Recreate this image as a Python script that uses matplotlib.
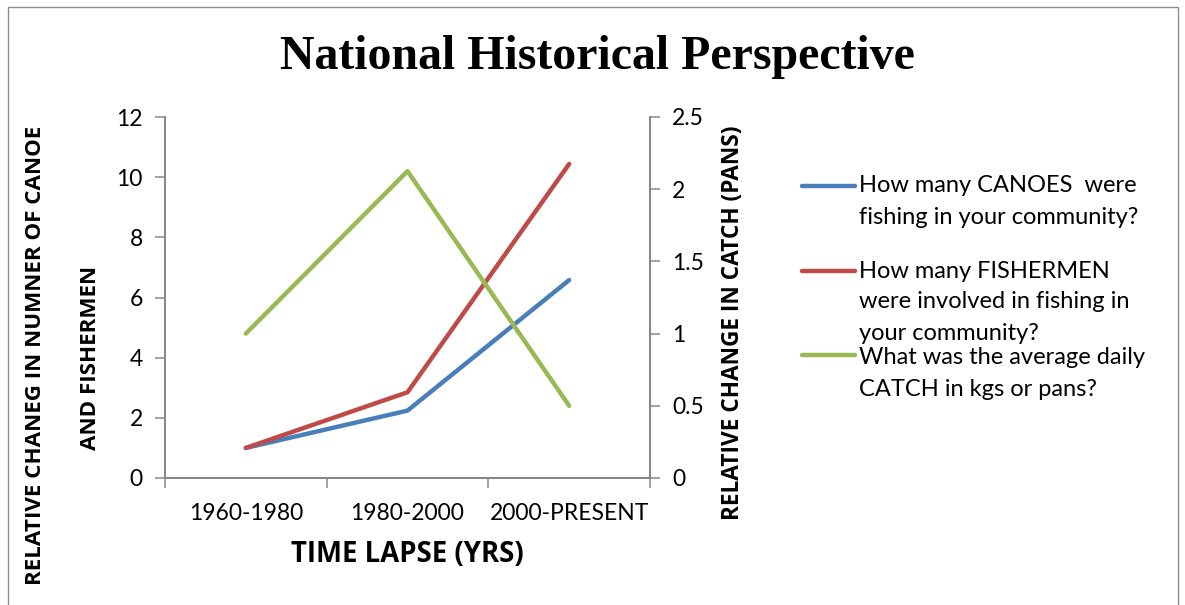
import matplotlib
matplotlib.use("Agg")
import matplotlib.pyplot as plt
from matplotlib.lines import Line2D
from matplotlib.patches import Rectangle

# ---- data ----
categories = ["1960-1980", "1980-2000", "2000-PRESENT"]
canoes = [1.0, 2.24, 6.58]
fishermen = [1.0, 2.85, 10.44]
catch = [1.0, 2.125, 0.5]
left_ticks = [0, 2, 4, 6, 8, 10, 12]
right_ticks = [0, 0.5, 1, 1.5, 2, 2.5]
right_tick_labels = ["0", "0.5", "1", "1.5", "2", "2.5"]
legend_labels = [
    ["How many CANOES  were", "fishing in your community?"],
    ["How many FISHERMEN", "were involved in fishing in", "your community?"],
    ["What was the average daily", "CATCH in kgs or pans?"],
]

W, H = 1185, 605
BLUE, RED, GREEN = "#4A7EBB", "#BE4B48", "#98B954"
SPINE = "#868686"
FONT = "Lato"
BFONT = "Open Sans"

fig = plt.figure(figsize=(W / 100, H / 100), dpi=100)

def fx(px):
    return px / W

def fy(py):
    return 1 - py / H

ax = fig.add_axes([fx(165), fy(478), fx(650) - fx(165), fy(117) - fy(478)])
ax2 = ax.twinx()

x = [0.5, 1.5, 2.5]
ax.plot(x, canoes, color=BLUE, lw=3.2, solid_capstyle="round", zorder=3)
ax.plot(x, fishermen, color=RED, lw=3.2, solid_capstyle="round", zorder=3)
ax2.plot(x, catch, color=GREEN, lw=3.2, solid_capstyle="round", zorder=3)

ax.set_xlim(0, 3)
ax.set_ylim(0, 12)
ax2.set_ylim(0, 2.5)

ax.set_xticks([0, 1, 2, 3])
ax.set_xticklabels([])
ax.set_xticks(x, minor=True)
ax.set_xticklabels(categories, minor=True, fontsize=16.5, fontfamily=FONT)
ax.tick_params(axis="x", which="minor", length=0, pad=18)
ax.tick_params(axis="x", which="major", length=7, width=1.1, color=SPINE, direction="out")

ax.set_yticks(left_ticks)
ax.set_yticklabels([str(t) for t in left_ticks], fontsize=16.5, fontfamily=FONT)
ax.tick_params(axis="y", length=7, width=1.1, color=SPINE, direction="out", pad=9)

ax2.set_yticks(right_ticks)
ax2.set_yticklabels(right_tick_labels, fontsize=16.5, fontfamily=FONT)
ax2.tick_params(axis="y", length=7, width=1.1, color=SPINE, direction="out", pad=9)

for a in (ax, ax2):
    a.spines["top"].set_visible(False)
    for s in ("left", "right", "bottom"):
        a.spines[s].set_color(SPINE)
        a.spines[s].set_linewidth(1.3)
ax.patch.set_visible(False)

# titles and labels
fig.text(fx(597), fy(57), "National Historical Perspective", ha="center", va="center",
         fontsize=34.5, fontweight="bold", fontfamily="Liberation Serif")
fig.text(fx(407), fy(555), "TIME LAPSE (YRS)", ha="center", va="center",
         fontsize=19.8, fontweight="bold", fontfamily=BFONT)
fig.text(fx(36), fy(355), "RELATIVE CHANEG IN NUMNER OF CANOE", ha="center", va="center",
         rotation=90, fontsize=16.1, fontweight="bold", fontfamily=BFONT)
fig.text(fx(90), fy(358), "AND FISHERMEN", ha="center", va="center",
         rotation=90, fontsize=16.1, fontweight="bold", fontfamily=BFONT)
fig.text(fx(733), fy(323), "RELATIVE CHANGE IN CATCH (PANS)", ha="center", va="center",
         rotation=90, fontsize=16.3, fontweight="bold", fontfamily=BFONT)

# legend (manual)
legend_colors = [BLUE, RED, GREEN]
legend_y = [186, 271, 355]
line_gap = 31
for col, y0, lines in zip(legend_colors, legend_y, legend_labels):
    fig.add_artist(Line2D([fx(802), fx(855)], [fy(y0), fy(y0)], color=col, lw=3.2,
                          solid_capstyle="round", transform=fig.transFigure))
    for i, t in enumerate(lines):
        yy = y0 + i * line_gap + (3 if col == GREEN else 0)
        fig.text(fx(859), fy(yy), t, ha="left", va="center", fontsize=17, fontfamily=FONT)

# border
fig.add_artist(Rectangle((fx(8), fy(620)), fx(1178) - fx(8), fy(7) - fy(620),
                         fill=False, edgecolor="#8c8c8c", lw=1.0, transform=fig.transFigure))

fig.savefig("out.png", dpi=100)
